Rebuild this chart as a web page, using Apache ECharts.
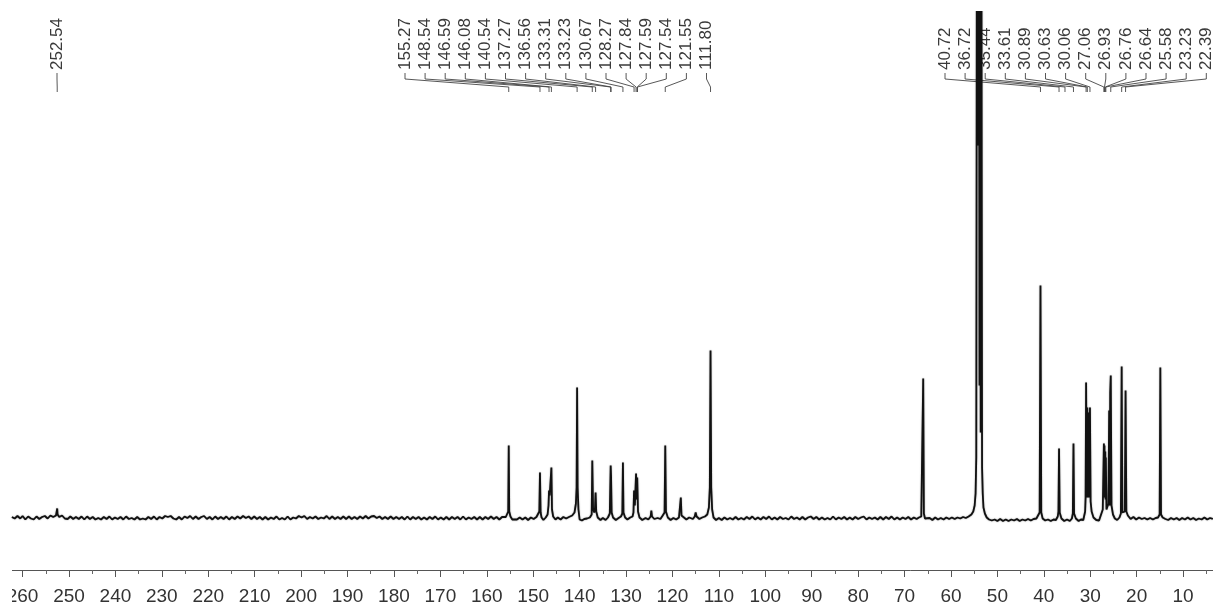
<!DOCTYPE html>
<html>
<head>
<meta charset="utf-8">
<title>13C NMR</title>
<style>
html,body{margin:0;padding:0;background:#fff;}
#contain{width:1213px;height:607px;}
</style>
<script src="https://cdn.jsdelivr.net/npm/echarts@6/dist/echarts.min.js"></script>
</head>
<body>
<div id="contain"></div>
<script>
// [ppm, height above baseline]
let baselineFar=[[262.3,0.5],[261.7,-1],[261.1,1.5],[260.5,-1],[260,1.5],[259.4,-2],[258.8,1],[258.2,-1],[257.6,-2],[257,1],[256.4,-1.5],[255.8,0.5],[255.2,1.5],[254.6,-1],[254,2],[253.4,0.5],[252.8,2],[252.62,3],[252.54,9],[252.46,3],[252.1,0.5],[251.5,2],[250.9,-1],[250.3,-1.5],[249.7,1],[249.1,-1.5],[248.5,0.5],[247.9,-1.5],[247.3,1],[246.7,-2],[246.1,1],[245.5,-1.5],[244.9,0.5],[244.3,-2],[243.7,-0.5],[243.1,-2],[242.5,0.5],[241.9,-1.5],[241.3,1],[240.7,-2],[240.1,0],[239.5,-1.5],[238.9,0.5],[238.3,-2],[237.7,1],[237.1,-1.5],[236.5,-0.5],[235.9,-2],[235.3,0.5],[234.7,-2],[234.1,-1],[233.5,-2],[232.9,0.5],[232.3,-1.5],[231.7,1],[231.1,-2],[230.5,0.5],[229.9,-1],[229.3,1.5],[228.7,0.5],[228.1,1.5],[227.5,-1],[226.9,-2],[226.3,0.5],[225.7,-2],[225.1,1],[224.5,-0.5],[223.9,1.5],[223.3,-1.5],[222.7,1],[222.1,-1.5],[221.5,0.5],[220.9,1.5],[220.3,-1.5],[219.7,0.5],[219.1,-2],[218.5,1],[217.9,-1.5],[217.3,0.5],[216.7,-1.5],[216.1,1],[215.5,-2],[214.9,0.5],[214.3,-1.5],[213.7,1],[213.1,-1],[212.5,1.5],[211.9,-0.5],[211.3,1],[210.7,-1.5],[210.1,1],[209.5,-1.5],[208.9,0.5],[208.3,-2],[207.7,0.5],[207.1,-2],[206.5,0],[205.9,-1.5],[205.3,1],[204.7,-2],[204.1,-0.5],[203.5,-2],[202.9,1],[202.3,-2],[201.7,0],[201.1,-1],[200.5,1.5],[199.9,0],[199.3,1.5],[198.7,-1.5],[198.1,0.5],[197.5,-1],[196.9,1],[196.3,-1.5],[195.7,0],[195.1,-1],[194.5,1.5],[193.9,-1.5],[193.3,1],[192.7,-1.5],[192.1,0.5],[191.5,-1.5],[190.9,1],[190.3,-1.5],[189.7,1],[189.1,-1.5],[188.5,0.5],[187.9,-1.5],[187.3,1],[186.7,-1],[186.1,1.5],[185.5,-1],[184.9,1],[184.3,1.5],[183.7,-0.5],[183.1,1],[182.5,-1.5],[181.9,0.5],[181.3,-1.5],[180.7,1],[180.1,-1.5],[179.5,0.5],[178.9,-1.5],[178.3,0.5],[177.7,-2],[177.1,1],[176.5,-2],[175.9,0.5],[175.3,-1.5],[174.7,0.5],[174.1,-2],[173.5,0],[172.9,-2],[172.3,0.5],[171.7,-1.5],[171.1,1],[170.5,-2],[169.9,0],[169.3,-2],[168.7,0.5],[168.1,-2],[167.5,0.5],[166.9,-1.5],[166.3,0.5],[165.7,-2],[165.1,1],[164.5,-2],[163.9,0],[163.3,-1.5],[162.7,0.5],[162.1,-2],[161.5,0.5],[160.9,-2],[160.3,0.5],[159.7,-1.5],[159.1,1],[158.5,-1.5],[157.9,0.5],[157.3,-2],[156.7,0.5],[156.3,-1]];

let aromaticPeaks=[[155.9,0.5],[155.5,2],[155.38,6],[155.27,72],[155.16,6],[154.9,1],[154.5,-2],[154.1,0],[153.5,-2],[152.9,0],[152.3,-2],[151.7,0],[151.1,-2.5],[150.5,0],[149.9,-1.5],[149.3,0.5],[148.9,0],[148.68,6],[148.54,45],[148.4,5],[148.2,0],[147.8,-2.5],[147.3,0],[146.9,3],[146.7,12],[146.59,27],[146.45,22],[146.25,24],[146.08,50],[145.95,8],[145.7,1],[145.2,-2],[144.7,0],[144.1,-2],[143.5,0.5],[142.9,-1],[142.3,0.5],[141.6,2],[141.1,5],[140.8,14],[140.65,30],[140.54,130],[140.43,30],[140.25,8],[140,-2],[139.5,-3],[139,-1.5],[138.4,-1],[137.8,0],[137.4,3],[137.27,57],[137.1,8],[136.85,5],[136.68,10],[136.56,25],[136.42,6],[136.1,0],[135.5,-2.5],[135,-0.5],[134.4,-2.5],[133.9,0],[133.5,4],[133.4,30],[133.31,52],[133.23,42],[133.1,5],[132.8,0],[132.2,-2.5],[131.6,-0.5],[131.1,1],[130.8,4],[130.67,55],[130.55,5],[130.2,0],[129.7,-2],[129.1,0],[128.6,1],[128.4,5],[128.27,27],[128.1,12],[127.98,10],[127.84,44],[127.7,18],[127.59,40],[127.54,38],[127.42,6],[127.1,0],[126.5,-2.5],[125.8,-0.5],[125.2,-2],[124.7,1],[124.55,7],[124.4,1],[123.9,-1.5],[123.2,-0.5],[122.6,-1.5],[122.1,2],[121.7,5],[121.55,72],[121.4,6],[121,0],[120.4,-2.5],[119.8,-0.5],[119.2,-2],[118.6,0],[118.35,2],[118.2,20],[118.05,2],[117.7,0],[117,-2],[116.4,0],[115.6,-1.5],[115.2,1],[115,5],[114.8,1],[114.2,-1.5],[113.6,0],[113,1],[112.5,3],[112.15,10],[111.95,30],[111.8,167],[111.65,30],[111.45,8],[111.15,0],[110.6,-2.5]];

let baselineMid=[[110,-0.5],[109.4,-2.5],[108.8,0],[108.2,-2],[107.6,-0.5],[107,-2],[106.4,0.5],[105.8,-2],[105.2,-0.5],[104.6,-2],[104,0.5],[103.4,-1.5],[102.8,1],[102.2,-2],[101.6,0],[101,-2],[100.4,0.5],[99.8,-1.5],[99.2,1],[98.6,-2],[98,0],[97.4,-2],[96.8,0.5],[96.2,-1.5],[95.6,-0.5],[95,-2],[94.4,1],[93.8,-1.5],[93.2,0],[92.6,-2],[92,0.5],[91.4,-2],[90.8,0],[90.2,1],[89.6,-1.5],[89,0.5],[88.4,-2],[87.8,0],[87.2,-2],[86.6,-0.5],[86,-2],[85.4,1],[84.8,-2],[84.2,0],[83.6,-1.5],[83,0.5],[82.4,-2],[81.8,0],[81.2,-2],[80.6,0.5],[80,-1.5],[79.4,0],[78.8,1],[78.2,-2],[77.6,0],[77,-1.5],[76.4,0],[75.8,-2],[75.2,0.5],[74.6,-2],[74,0.5],[73.4,-1.5],[72.8,1],[72.2,-2],[71.6,0],[71,-2],[70.4,0],[69.8,-1.5],[69.2,0.5],[68.6,-2],[68,0],[67.4,-1.5],[66.9,0],[66.4,1],[66.12,3],[65.98,139],[65.84,4],[65.6,-1],[65.2,-3],[64.6,-0.5],[64,-2.5],[63.4,0],[62.8,-2],[62.2,-0.5],[61.6,-2],[61,0],[60.4,-1.5],[59.8,0],[59.2,-1.5],[58.6,0],[58,-1],[57.4,0.5],[56.8,-0.5],[56.2,1]];

let solventPeaks=[[55.6,3],[55.2,6],[54.9,12],[54.7,24],[54.55,60],[54.42,620],[54.3,372],[54.18,620],[54.05,372],[53.95,620],[53.85,132],[53.7,620],[53.6,85],[53.45,620],[53.3,50],[53.16,24],[53,10],[52.7,4],[52.3,0],[51.8,-2]];

let baselineNear=[[51.2,-3],[50.6,-2],[50,-3.5],[49.4,-1.5],[48.8,-3.5],[48.2,-2],[47.6,-3.5],[47,-2],[46.4,-3],[45.8,-1.5],[45.2,-3.5],[44.6,-2],[44,-3],[43.4,-1.5],[42.8,-3],[42.2,-1.5],[41.6,-1],[41.2,1],[40.9,5],[40.72,232],[40.55,5],[40.25,-1],[39.7,-3],[39.1,-2],[38.5,-3.5],[37.9,-2],[37.4,-2.5],[37,1],[36.85,6],[36.72,69],[36.58,5],[36.2,-1],[35.6,-3.5],[35,-2],[34.4,-3.5],[33.95,-1],[33.75,4],[33.61,74],[33.48,4],[33.1,-1],[32.5,-3.5],[32,-2],[31.5,-2.5],[31.1,6],[31,20],[30.89,135],[30.76,20],[30.63,110],[30.5,20],[30.38,105],[30.25,20],[30.06,110],[29.92,16],[29.7,6],[29.3,0],[28.7,-2.5],[28.1,-3],[27.7,-1],[27.3,8],[27.06,74],[26.98,20],[26.93,72],[26.85,20],[26.76,66],[26.7,18],[26.64,60],[26.5,8],[26.3,6],[26.08,14],[25.92,107],[25.8,12],[25.7,125],[25.58,142],[25.42,12],[25.1,3],[24.7,-1],[24.2,-2.5],[23.7,0],[23.4,4],[23.23,151],[23.08,5],[22.8,3],[22.55,6],[22.39,127],[22.22,6],[21.9,2],[21.3,-1.5],[20.7,0.5],[20.1,-2],[19.5,0],[18.9,-1.5],[18.3,-0.5],[17.7,-2],[17.1,-0.5],[16.5,-2],[15.9,-0.5],[15.4,0],[15.05,3],[14.9,150],[14.75,3],[14.4,0],[13.8,-1.5],[13.2,-2.5],[12.6,-0.5],[12,-2],[11.4,-0.5],[10.8,-2.5],[10.2,-0.5],[9.6,-2],[9,0],[8.4,-2],[7.8,-0.5],[7.2,-2.5],[6.6,-1],[6,-2],[5.4,0],[4.8,-2],[4.2,-0.5],[3.6,-1.5]];

// peak picking labels, each group is laid out in its own row of slots
let singleLabels=['252.54'];
let aromaticLabels=['155.27','148.54','146.59','146.08','140.54','137.27','136.56','133.31','133.23','130.67','128.27','127.84','127.59','127.54','121.55','111.80'];
let aliphaticLabels=['40.72','36.72','35.44','33.61','30.89','30.63','30.06','27.06','26.93','26.76','26.64','25.58','23.23','22.39'];

let spectrum=baselineFar.concat(aromaticPeaks,baselineMid,solventPeaks,baselineNear);

function labelRows(list,startX,step){
    return list.map(function(text,i){
        return {value:[parseFloat(text),startX+i*step],label:text};
    });
}
let pickData=[].concat(labelRows(singleLabels,57,0),labelRows(aromaticLabels,405,20.1),labelRows(aliphaticLabels,945,20.1));

function drawPick(params,api){
    let peakX=api.coord([api.value(0),0])[0];
    let slotX=api.value(1);
    let item=pickData[params.dataIndex];
    return {
        type:'group',
        children:[
            {
                type:'polyline',
                shape:{points:[[slotX,73],[slotX,79],[peakX,87],[peakX,92]]},
                style:{stroke:'#444',lineWidth:0.9,fill:null}
            },
            {
                type:'text',
                x:slotX,
                y:70,
                rotation:Math.PI/2,
                style:{text:item.label,fill:'#3a3a3a',font:'17px "Liberation Sans", Arial, sans-serif',align:'left',verticalAlign:'middle'}
            }
        ]
    };
}

let myChart=echarts.init(document.getElementById('contain'),null,{renderer:'canvas'});
let option={
    backgroundColor:'#fff',
    animation:false,
    grid:{left:-23.84,right:-16.5,top:12,bottom:37,outerBoundsMode:'none'},
    xAxis:{
        type:'value',
        inverse:true,
        min:0,
        max:270,
        interval:10,
        splitLine:{show:false},
        axisLine:{show:true,onZero:false,lineStyle:{color:'#555',width:1}},
        axisTick:{show:true,length:7,lineStyle:{color:'#555',width:1}},
        minorTick:{show:true,splitNumber:2,length:4,lineStyle:{color:'#666',width:1}},
        axisLabel:{margin:17,fontSize:19,color:'#333',fontFamily:'"Liberation Sans", Arial, sans-serif',hideOverlap:false}
    },
    yAxis:{
        type:'value',
        min:-52.5,
        max:505.5,
        show:false
    },
    series:[
        {
            type:'line',
            data:spectrum,
            symbol:'none',
            clip:true,
            silent:true,
            lineStyle:{color:'#111',width:1.8,join:'bevel',shadowBlur:1.5,shadowColor:'rgba(0,0,0,0.45)'}
        },
        {
            type:'custom',
            data:pickData,
            renderItem:drawPick,
            clip:false,
            silent:true,
            encode:{x:0}
        }
    ],
    // the axis starts a little inside the page, the 260 label is cut there
    graphic:[{type:'rect',z:100,shape:{x:0,y:560,width:12,height:47},style:{fill:'#fff'}}]
};
myChart.setOption(option);
</script>
</body>
</html>
